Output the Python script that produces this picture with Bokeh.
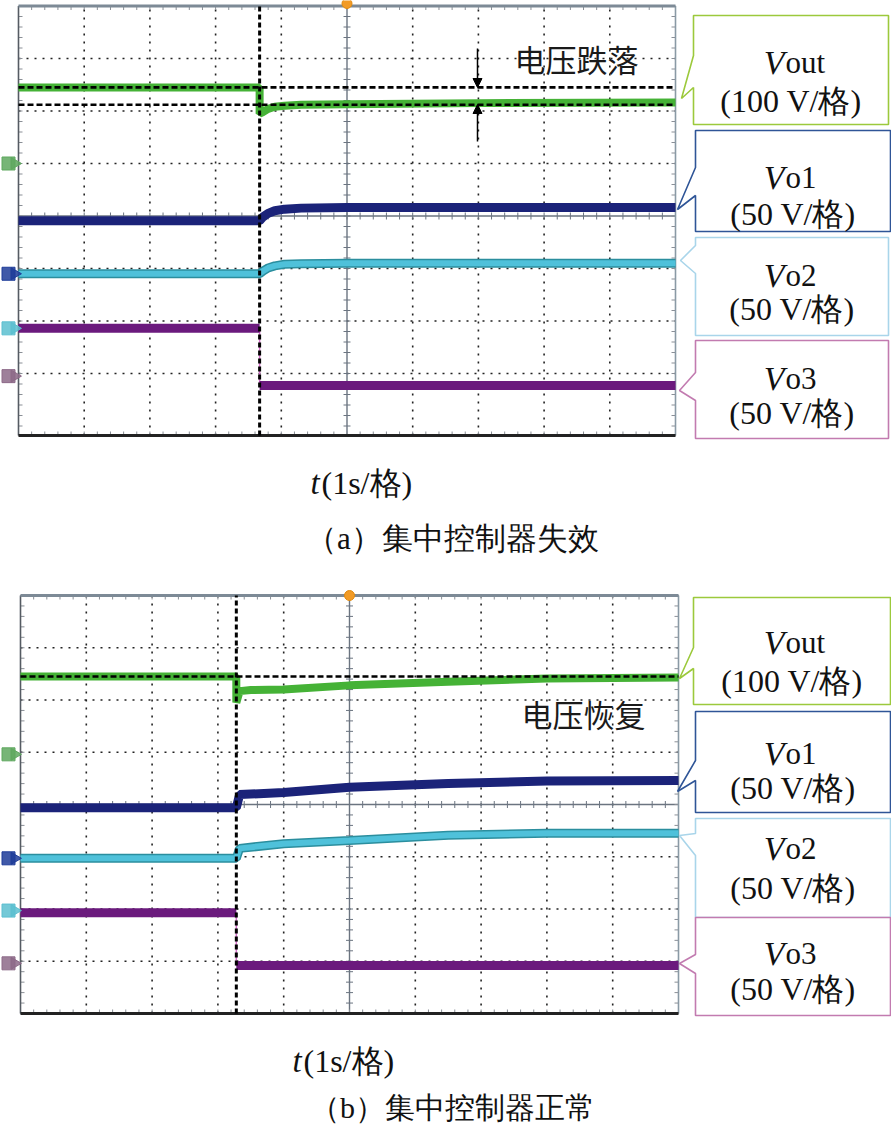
import math
import numpy as np
from bokeh.plotting import figure
from bokeh.layouts import column
from bokeh.models import Range1d, Label, Arrow, NormalHead
from bokeh.embed import file_html
from bokeh.resources import INLINE

# ---------------- data ----------------
# time: 1 s per division (10 divisions); amplitude in screen divisions (8 divisions)
series_subs = ["out", "o1", "o2", "o3"]
series_scales = ["(100 V/格)", "(50 V/格)", "(50 V/格)", "(50 V/格)"]
time_unit = "(1s/格)"

# (a) centralized controller failure
a_step = 3.67
a_vout_t = [0.0, 3.67, 3.67, 3.72, 3.80, 3.90, 4.05, 4.30, 5.00, 7.00, 10.0]
a_vout_y = [6.45, 6.45, 5.95, 5.98, 6.04, 6.08, 6.10, 6.12, 6.13, 6.15, 6.16]
a_vo1_t = [0.0, 3.67, 3.72, 3.80, 3.90, 4.05, 4.30, 5.00, 10.0]
a_vo1_y = [3.91, 3.91, 3.98, 4.05, 4.10, 4.13, 4.15, 4.16, 4.16]
a_vo2_t = [0.0, 3.67, 3.72, 3.80, 3.90, 4.05, 4.30, 5.00, 10.0]
a_vo2_y = [2.90, 2.90, 2.95, 3.01, 3.05, 3.08, 3.09, 3.10, 3.10]
a_vo3_t = [0.0, 3.67, 3.67, 10.0]
a_vo3_y = [1.86, 1.86, 0.77, 0.77]
a_ref_levels = [6.45, 6.12]
a_ch_markers = [5.0, 2.90, 1.86, 0.95]
a_note = "电压跌落"
a_caption = "（a）集中控制器失效"

# (b) centralized controller normal
b_step = 3.28
b_vout_t = [0.0, 3.28, 3.28, 3.33, 3.50, 4.00, 5.00, 6.50, 8.00, 10.0]
b_vout_y = [6.45, 6.45, 5.95, 6.17, 6.19, 6.20, 6.28, 6.35, 6.41, 6.43]
b_vo1_t = [0.0, 3.28, 3.33, 4.00, 5.00, 6.50, 8.00, 10.0]
b_vo1_y = [3.94, 3.94, 4.19, 4.23, 4.33, 4.40, 4.45, 4.46]
b_vo2_t = [0.0, 3.28, 3.33, 4.00, 5.00, 6.50, 8.00, 10.0]
b_vo2_y = [2.97, 2.97, 3.16, 3.25, 3.31, 3.41, 3.45, 3.45]
b_vo3_t = [0.0, 3.28, 3.28, 10.0]
b_vo3_y = [1.93, 1.93, 0.92, 0.92]
b_ref_levels = [6.45]
b_ch_markers = [4.96, 2.97, 1.97, 0.96]
b_note = "电压恢复"
b_caption = "（b）集中控制器正常"

# ---------------- styles ----------------
GREEN_D, GREEN = "#2f8a25", "#45b236"
NAVY = "#1b2379"
CYAN_D, CYAN = "#2b8e9e", "#4fc1da"
PURPLE, PURPLE_THIN = "#6b1a7d", "#d36fc8"
BOX_COLORS = ["#9cc93c", "#2f5597", "#a9d5ea", "#c27bb0"]
MARK_COLORS = ["#5fa85f", "#1f3c99", "#5cbfd0", "#8d6a88"]
SERIF = "'Liberation Serif', 'Times New Roman', serif"
CJK = "'Noto Sans CJK SC'"
W = 891


def band(t, y, thresh=0.8):
    tt, yy = [], []
    for i in range(len(t)):
        if i > 0 and t[i] == t[i - 1] and abs(y[i] - y[i - 1]) > thresh:
            tt.append(float("nan"))
            yy.append(float("nan"))
        tt.append(t[i])
        yy.append(y[i])
    return tt, yy


def build_panel(top_page, height, x0, xdiv, y0, ydiv, ybot, step, traces, refs,
                markers, note, note_xy, arrows, callouts, tlabel_xy, trig_py):
    X = lambda px: (px - x0) / xdiv
    Y = lambda py: 8 - (py - y0) / ydiv

    p = figure(width=W, height=height, output_backend="svg", toolbar_location=None,
               x_range=Range1d(X(0), X(W)), y_range=Range1d(Y(top_page + height), Y(top_page)),
               x_axis_location=None, y_axis_location=None, min_border=0,
               outline_line_color=None, background_fill_color="white",
               border_fill_color="white")
    p.grid.visible = False

    # dotted graticule
    vx = [i for i in range(1, 10) if i != 5]
    p.segment(x0=vx, y0=[ybot] * len(vx), x1=vx, y1=[8] * len(vx),
              line_color="#222222", line_width=1.6, line_dash="2 6")
    hy = [j for j in range(1, 8) if j != 4]
    p.segment(x0=[0] * len(hy), y0=hy, x1=[10] * len(hy), y1=hy,
              line_color="#222222", line_width=1.6, line_dash="2 6")
    # center cross with ticks
    p.segment(x0=[5, 0], y0=[ybot, 4], x1=[5, 10], y1=[8, 4], line_color="#6b7480", line_width=1.4)
    tx = np.arange(0, 10.001, 0.2)
    ty = 8 - np.arange(0, 8 - ybot + 1e-6, 0.2)
    hx, hv = 3.5 / xdiv, 3.5 / ydiv
    p.segment(x0=tx, y0=4 - hv, x1=tx, y1=4 + hv, line_color="#6b7480", line_width=1)
    p.segment(x0=5 - hx, y0=ty, x1=5 + hx, y1=ty, line_color="#6b7480", line_width=1)
    # border ticks
    p.segment(x0=0, y0=ty, x1=4 / xdiv, y1=ty, line_color="#8a8f96", line_width=1)
    p.segment(x0=10 - 4 / xdiv, y0=ty, x1=10, y1=ty, line_color="#8a8f96", line_width=1)
    p.segment(x0=tx, y0=8, x1=tx, y1=8 - 4 / ydiv, line_color="#8a8f96", line_width=1)
    p.segment(x0=tx, y0=ybot, x1=tx, y1=ybot + 4 / ydiv, line_color="#8a8f96", line_width=1)
    # borders
    p.segment(x0=[0], y0=[ybot], x1=[0], y1=[8], line_color="#555b63", line_width=1.6)
    p.segment(x0=[10], y0=[ybot], x1=[10], y1=[8], line_color="#8a9aa5", line_width=1.6)
    p.segment(x0=[0], y0=[8], x1=[10], y1=[8], line_color="#7d8a96", line_width=3)
    p.segment(x0=[0], y0=[ybot], x1=[10], y1=[ybot], line_color="#222222", line_width=3)

    # traces
    (gt, gy), (nt, ny), (ct, cy), (pt, pyv) = traces
    p.line(gt, gy, line_color=GREEN, line_width=8)
    p.line(nt, ny, line_color=NAVY, line_width=9)
    p.line(ct, cy, line_color=CYAN_D, line_width=9)
    p.line(ct, cy, line_color=CYAN, line_width=6)
    p.line(pt, pyv, line_color=PURPLE_THIN, line_width=1.5)
    bt, by = band(pt, pyv)
    p.line(bt, by, line_color=PURPLE, line_width=9)

    # reference dashed lines and cursor
    p.segment(x0=[0] * len(refs), y0=refs, x1=[10] * len(refs), y1=refs,
              line_color="black", line_width=2.6, line_dash="6 3")
    p.segment(x0=[step], y0=[ybot], x1=[step], y1=[8], line_color="black",
              line_width=3, line_dash="5 3")

    # channel markers & trigger marker
    p.scatter([X(8)] * 4, markers, marker="square", size=13, fill_color=MARK_COLORS,
              line_color=MARK_COLORS, fill_alpha=0.85)
    p.scatter([X(14)] * 4, markers, marker="triangle", size=12, angle=-math.pi / 2,
              fill_color=MARK_COLORS, line_color=MARK_COLORS, fill_alpha=0.85)
    p.scatter([5], [Y(trig_py)], marker="circle", size=10, fill_color="#f29b26",
              line_color="#e08a10")

    # note and arrows
    p.add_layout(Label(x=X(note_xy[0]), y=Y(note_xy[1]), text=note, text_font=CJK,
                       text_font_size="31px", text_align="center", text_baseline="middle",
                       text_color="#1a1a1a"))
    for (ax, ys, ye) in arrows:
        p.add_layout(Arrow(x_start=X(ax), y_start=Y(ys), x_end=X(ax), y_end=Y(ye),
                           line_width=1.5, line_color="black",
                           end=NormalHead(size=9, fill_color="black", line_color="black")))

    # callouts
    for k, c in enumerate(callouts):
        l, r, t, b = c["box"]
        b1, b2 = c["base"]
        tpx, tpy = c["tip"]
        xs = [l, r, r, l, l, tpx, l, l]
        ys = [t, t, b, b, b2, tpy, b1, t]
        p.patch([X(v) for v in xs], [Y(v) for v in ys], fill_color="white",
                line_color=BOX_COLORS[k], line_width=1.6)
        p.add_layout(Label(x=X(c["vx"]), y=Y(c["vy"]), text="V", text_font=SERIF,
                           text_font_style="italic", text_font_size="34px",
                           text_align="right", text_baseline="alphabetic", text_color="#111"))
        p.add_layout(Label(x=X(c["vx"] + 1), y=Y(c["vy"]), text=series_subs[k], text_font=SERIF,
                           text_font_size="31px", text_align="left",
                           text_baseline="alphabetic", text_color="#111"))
        p.add_layout(Label(x=X((l + r) / 2), y=Y(c["sy"]), text=series_scales[k],
                           text_font=SERIF, text_font_size="32px", text_align="center",
                           text_baseline="alphabetic", text_color="#111"))

    # time axis label
    tlx, tly = tlabel_xy
    p.add_layout(Label(x=X(tlx), y=Y(tly), text="t", text_font=SERIF, text_font_style="italic",
                       text_font_size="33px", text_align="left", text_baseline="alphabetic",
                       text_color="#111"))
    p.add_layout(Label(x=X(tlx + 11), y=Y(tly), text=time_unit, text_font=SERIF,
                       text_font_size="32px", text_align="left", text_baseline="alphabetic",
                       text_color="#111"))
    return p, X, Y


pa, Xa, Ya = build_panel(
    top_page=0, height=560, x0=18, xdiv=65.7, y0=5.5, ydiv=52.5, ybot=-0.181, step=a_step,
    traces=[(a_vout_t, a_vout_y), (a_vo1_t, a_vo1_y), (a_vo2_t, a_vo2_y), (a_vo3_t, a_vo3_y)],
    refs=a_ref_levels, markers=a_ch_markers, note=a_note, note_xy=(576, 58),
    arrows=[(477, 48, 87), (477, 141, 104)],
    callouts=[
        dict(box=(693, 888, 15, 124), base=(55, 87), tip=(681, 98), vx=784, vy=62, sy=100),
        dict(box=(695, 890, 130, 231), base=(167, 195), tip=(677, 209), vx=784, vy=177, sy=213),
        dict(box=(695, 888, 237, 335), base=(245, 273), tip=(680, 260), vx=784, vy=275, sy=308),
        dict(box=(695, 888, 340, 438), base=(372, 400), tip=(679, 390), vx=784, vy=378, sy=412),
    ],
    tlabel_xy=(310, 482), trig_py=3)
pa.add_layout(Label(x=Xa(452), y=Ya(538), text=a_caption, text_font=SERIF,
                    text_font_size="31px", text_align="center", text_baseline="middle",
                    text_color="#111"))

pb, Xb, Yb = build_panel(
    top_page=560, height=566, x0=20, xdiv=65.8, y0=595, ydiv=52.25, ybot=0.0, step=b_step,
    traces=[(b_vout_t, b_vout_y), (b_vo1_t, b_vo1_y), (b_vo2_t, b_vo2_y), (b_vo3_t, b_vo3_y)],
    refs=b_ref_levels, markers=b_ch_markers, note=b_note, note_xy=(583, 713),
    arrows=[],
    callouts=[
        dict(box=(693, 890, 597, 704), base=(647, 668), tip=(679, 678), vx=784, vy=642, sy=680),
        dict(box=(695, 890, 711, 812), base=(760, 780), tip=(677, 791), vx=784, vy=753, sy=787),
        dict(box=(695, 890, 818, 917), base=(833, 855), tip=(679, 835), vx=784, vy=848, sy=887),
        dict(box=(695, 890, 917, 1015), base=(954, 973), tip=(679, 963), vx=784, vy=953, sy=988),
    ],
    tlabel_xy=(292, 1060), trig_py=595)
pb.add_layout(Label(x=Xb(452), y=Yb(1107), text=b_caption, text_font=SERIF,
                    text_font_size="30px", text_align="center", text_baseline="middle",
                    text_color="#111"))

layout = column(pa, pb, spacing=0)
open("out.html", "w").write(file_html(layout, INLINE))
